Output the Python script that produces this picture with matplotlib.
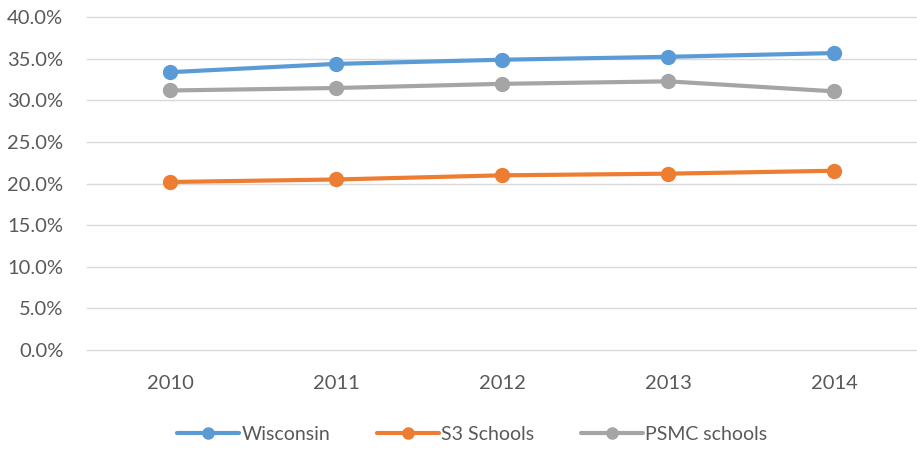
import matplotlib
matplotlib.use("Agg")
import matplotlib.pyplot as plt
from matplotlib.ticker import FuncFormatter

years = ["2010", "2011", "2012", "2013", "2014"]
wisconsin = [33.4, 34.4, 34.9, 35.25, 35.7]
s3_schools = [20.2, 20.5, 21.0, 21.2, 21.55]
psmc_schools = [31.2, 31.5, 32.0, 32.3, 31.1]
series_names = ["Wisconsin", "S3 Schools", "PSMC schools"]
colors = ["#5B9BD5", "#ED7D31", "#A5A5A5"]

plt.rcParams['font.family'] = ['Lato', 'DejaVu Sans']
fig = plt.figure(figsize=(9.17, 4.51), dpi=100)
ax = fig.add_axes([87/917, 1 - 350/451, 830/917, (350 - 17.3)/451])

x = list(range(len(years)))
for vals, name, c in zip([wisconsin, s3_schools, psmc_schools], series_names, colors):
    ax.plot(x, vals, color=c, lw=3, marker='o', markersize=10, label=name, solid_capstyle='round')

ax.set_xlim(-0.5, 4.5)
ax.set_ylim(0, 40)
ax.set_yticks([0, 5, 10, 15, 20, 25, 30, 35, 40])
ax.yaxis.set_major_formatter(FuncFormatter(lambda v, p: f"{v:.1f}%"))
ax.set_xticks(x)
ax.set_xticklabels(years)
ax.grid(axis='y', color='#D9D9D9', lw=1)
for gl in ax.get_ygridlines():
    gl.set_clip_on(False)
ax.set_axisbelow(True)
for s in ax.spines.values():
    s.set_visible(False)
ax.tick_params(length=0, labelsize=14.5, colors='#595959', pad=17)
ax.tick_params(axis='x', pad=18)

leg = fig.legend(loc='center', bbox_to_anchor=(472/917, 1 - 434/451), ncol=3, frameon=False,
                 fontsize=14, handlelength=3.2, columnspacing=2.4, handletextpad=0.1,
                 labelcolor='#595959')
for h in leg.legend_handles:
    h.set_markersize(8)

fig.savefig("out.png", dpi=100)
